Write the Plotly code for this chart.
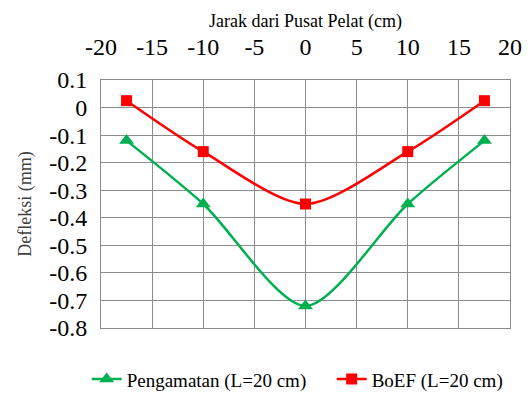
import plotly.graph_objects as go

x_pos = [-17.5, -10, 0, 10, 17.5]
pengamatan = [-0.12, -0.35, -0.72, -0.35, -0.12]
boef = [0.025, -0.16, -0.35, -0.16, 0.025]
x_ticks = [-20, -15, -10, -5, 0, 5, 10, 15, 20]
x_labels = ["-20", "-15", "-10", "-5", "0", "5", "10", "15", "20"]
y_ticks = [0.1, 0, -0.1, -0.2, -0.3, -0.4, -0.5, -0.6, -0.7, -0.8]
y_labels = ["0.1", "0", "-0.1", "-0.2", "-0.3", "-0.4", "-0.5", "-0.6", "-0.7", "-0.8"]

font = "Liberation Serif"
fig = go.Figure()
fig.add_trace(go.Scatter(x=x_pos, y=pengamatan, mode="lines+markers",
                         name="Pengamatan (L=20 cm)",
                         line=dict(color="#00B050", width=2.5, shape="spline", smoothing=0.8),
                         marker=dict(symbol="triangle-up", size=13, color="#00B050")))
fig.add_trace(go.Scatter(x=x_pos, y=boef, mode="lines+markers",
                         name="BoEF (L=20 cm)",
                         line=dict(color="#FF0000", width=2.5, shape="spline", smoothing=0.8),
                         marker=dict(symbol="square", size=11, color="#FF0000")))
fig.update_layout(
    width=531, height=394,
    margin=dict(l=101, r=21, t=80, b=66, autoexpand=False),
    paper_bgcolor="white", plot_bgcolor="white",
    font=dict(family=font, color="black"),
    showlegend=True,
    legend=dict(orientation="h", x=-0.035, xanchor="left", y=-0.13, yanchor="top",
                font=dict(size=19, family=font), tracegroupgap=0, entrywidth=200,
                entrywidthmode="pixels"),
    xaxis=dict(side="top", range=[-20, 20], tickvals=x_ticks, ticktext=x_labels, ticks="",
               tickfont=dict(size=24, family=font), showgrid=True,
               gridcolor="#8c8c8c", gridwidth=1, showline=True, linecolor="#8c8c8c",
               mirror=True, zeroline=False, ticklabelstandoff=14,
               title=dict(text="Jarak dari Pusat Pelat (cm)", font=dict(size=18, family=font), standoff=2)),
    yaxis=dict(range=[-0.8, 0.1], tickvals=y_ticks, ticktext=y_labels, ticks="",
               tickfont=dict(size=24, family=font), showgrid=True,
               gridcolor="#8c8c8c", gridwidth=1, showline=True, linecolor="#8c8c8c",
               mirror=True, zeroline=False, ticklabelstandoff=8,
               title=dict(text="Defleksi (mm)", font=dict(size=18, family=font, color="#404040"), standoff=12)),
)
fig.write_html("out.html")
